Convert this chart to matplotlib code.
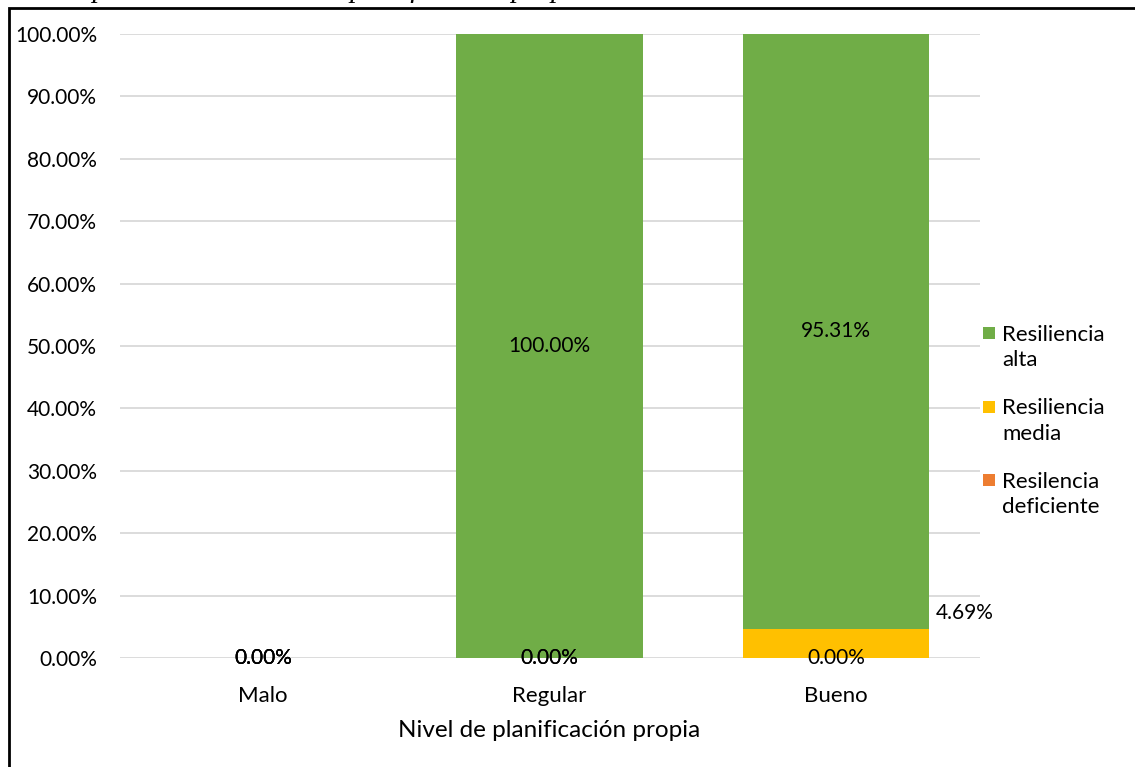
import matplotlib
matplotlib.use("Agg")
import matplotlib.pyplot as plt
from matplotlib.patches import Rectangle
from matplotlib.ticker import FuncFormatter, MultipleLocator

plt.rcParams["font.family"] = ["Lato", "DejaVu Sans"]

categories = ["Malo", "Regular", "Bueno"]
series_names = ["Resilencia\ndeficiente", "Resiliencia\nmedia", "Resiliencia\nalta"]
deficiente = [0.0, 0.0, 0.0]
media = [0.0, 0.0, 4.69]
alta = [0.0, 100.0, 95.31]
colors = ["#ED7D31", "#FFC000", "#70AD47"]
caption = "Descriptivo de la dimensión planificación propia de acuerdo al nivel de resiliencia"

W, H = 1135, 767
fig = plt.figure(figsize=(W / 100, H / 100), dpi=100)
ax = fig.add_axes([119.5 / W, (H - 658) / H, 860 / W, 624 / H])

x = list(range(len(categories)))
bar_w = 0.65
bottom = [0.0] * len(categories)
containers = []
for vals, name, col in zip([deficiente, media, alta], series_names, colors):
    bc = ax.bar(x, vals, bar_w, bottom=bottom, color=col, label=name, zorder=2)
    containers.append((bc, vals, list(bottom)))
    bottom = [b + v for b, v in zip(bottom, vals)]

label_fs = 15
for idx, (bc, vals, base) in enumerate(containers):
    for i, (v, b0) in enumerate(zip(vals, base)):
        txt = f"{v:.2f}%"
        if idx == 1 and v > 0:
            # small middle segment: label placed to the right of the bar
            ax.annotate(txt, xy=(i + bar_w / 2, b0 + v), xytext=(5, 11),
                        textcoords="offset points", ha="left", va="center",
                        fontsize=label_fs, color="#000000", zorder=4)
        else:
            ax.text(i, b0 + v / 2, txt, ha="center", va="center",
                    fontsize=label_fs, color="#000000", zorder=4)

ax.set_xlim(-0.5, 2.5)
ax.set_ylim(0, 100)
ax.yaxis.set_major_locator(MultipleLocator(10))
ax.yaxis.set_major_formatter(FuncFormatter(lambda v, p: f"{v:.2f}%"))
ax.set_xticks(x)
ax.set_xticklabels(categories)
ax.tick_params(axis="both", length=0, colors="#000000")
ax.tick_params(axis="y", labelsize=15, pad=16)
ax.tick_params(axis="x", labelsize=16, pad=20)
ax.grid(axis="y", color="#D9D9D9", linewidth=1.3, zorder=0)
ax.set_axisbelow(True)
for s in ax.spines.values():
    s.set_visible(False)
ax.set_xlabel("Nivel de planificación propia", fontsize=17.5, labelpad=10)

# legend: marker aligned with the first line of each two-line entry
for k, (name, col) in enumerate(zip(series_names[::-1], colors[::-1])):
    top_px = 327 + k * 73.5
    fig.add_artist(Rectangle((983 / W, (H - top_px - 12) / H), 12 / W, 12 / H,
                             transform=fig.transFigure, facecolor=col,
                             edgecolor="none"))
    fig.text(1002 / W, (H - (top_px + 6 + 14.5)) / H, name, ha="left",
             va="center", fontsize=16, linespacing=1.32, color="#000000")

# caption line partly outside the top edge
fig.text(15 / W, (H + 3) / H, caption, ha="left", va="baseline",
         fontsize=21, style="italic", family=["Liberation Serif"], color="#000000")

# outer frame
fig.add_artist(Rectangle((9 / W, -0.05), 1.2, (H - 8) / H + 0.05,
                         transform=fig.transFigure, fill=False,
                         edgecolor="#000000", linewidth=2, zorder=10))

fig.savefig("out.png", dpi=100)
